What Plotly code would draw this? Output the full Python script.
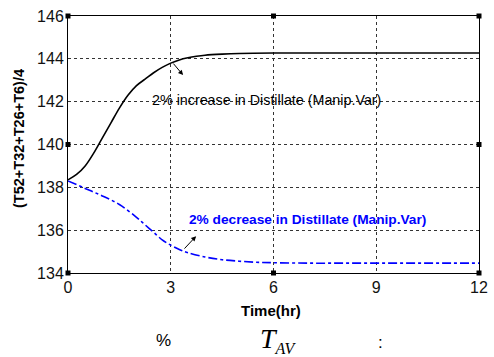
import plotly.graph_objects as go

# Response of the average tray temperature to a +/-2% step in distillate flow
t_up = [0, 0.25, 0.5, 0.75, 1, 1.25, 1.5, 1.75, 2, 2.25, 2.5, 2.75, 3, 3.25, 3.5,
        3.75, 4, 4.5, 5, 6, 7, 8, 9, 10, 11, 12]
temp_up = [138.35, 138.6, 139.0, 139.6, 140.3, 141.0, 141.7, 142.3, 142.75, 143.05,
           143.35, 143.6, 143.8, 143.95, 144.05, 144.12, 144.17, 144.22, 144.25,
           144.27, 144.27, 144.27, 144.27, 144.27, 144.27, 144.27]

t_down = [0, 0.5, 1, 1.5, 2, 2.25, 2.5, 2.75, 3, 3.25, 3.5, 4, 4.5, 5, 5.5, 6,
          7, 8, 9, 10, 11, 12]
temp_down = [138.3, 137.95, 137.6, 137.2, 136.6, 136.25, 135.9, 135.55, 135.3,
             135.1, 134.95, 134.75, 134.62, 134.55, 134.5, 134.48, 134.46, 134.46,
             134.46, 134.46, 134.46, 134.46]

x_ticks = [0, 3, 6, 9, 12]
y_ticks = [134, 136, 138, 140, 142, 144, 146]

# axes selection handles (corners and edge midpoints)
handle_x = [0, 6, 12, 12, 12, 6, 0, 0]
handle_y = [146, 146, 146, 140, 134, 134, 134, 140]

label_up = "2% increase in Distillate (Manip.Var)"
label_down = "2% decrease in Distillate (Manip.Var)"

SANS = "Liberation Sans, Arial"
SERIF = "Liberation Serif, Times New Roman"

W, H = 494, 357
L, R, T, B = 68, 15, 16, 84
PW, PH = W - L - R, H - T - B


def px(xp):
    return (xp - L) / PW


def py(yp):
    return (H - B - yp) / PH


fig = go.Figure()
fig.add_trace(go.Scatter(x=t_up, y=temp_up, mode="lines",
                         line=dict(color="black", width=1.6, shape="spline")))
fig.add_trace(go.Scatter(x=t_down, y=temp_down, mode="lines",
                         line=dict(color="#0000ff", width=1.6, dash="dashdot",
                                   shape="spline")))
fig.add_trace(go.Scatter(x=handle_x, y=handle_y, mode="markers",
                         marker=dict(symbol="square", size=5, color="black"),
                         cliponaxis=False))

axis_style = dict(showgrid=True, gridcolor="#333333", griddash="3px,3px",
                  gridwidth=1, showline=True, linecolor="black", linewidth=1,
                  mirror=True, ticks="", zeroline=False, automargin=False,
                  tickfont=dict(family=SANS, size=16, color="#111111"))

fig.update_xaxes(range=[0, 12], tickvals=x_ticks, ticklabelstandoff=0, **axis_style)
fig.update_yaxes(range=[134, 146], tickvals=y_ticks, ticklabelstandoff=0, **axis_style)


def paper_text(xp, yp, text, size, family=SANS, angle=0):
    return dict(x=px(xp), y=py(yp), xref="paper", yref="paper", showarrow=False,
                xanchor="center", yanchor="middle", textangle=angle, text=text,
                font=dict(family=family, size=size, color="black"))


ann = [
    dict(x=3.36, y=143.24, ax=3.04, ay=143.85, xref="x", yref="y", axref="x",
         ayref="y", showarrow=True, arrowhead=2, arrowsize=1, arrowwidth=1,
         arrowcolor="black", text=""),
    dict(x=3.74, y=135.72, ax=3.36, ay=135.07, xref="x", yref="y", axref="x",
         ayref="y", showarrow=True, arrowhead=2, arrowsize=1, arrowwidth=1,
         arrowcolor="black", text=""),
    dict(x=5.81, y=142.07, xref="x", yref="y", showarrow=False, text=label_up,
         font=dict(family=SANS, size=14.3, color="black")),
    dict(x=7.0, y=136.5, xref="x", yref="y", showarrow=False,
         text="<b>" + label_down + "</b>",
         font=dict(family=SANS, size=13.7, color="#0000ff")),
    # axis titles
    paper_text(271, 310, "<b>Time(hr)</b>", 15),
    paper_text(19, 139, "<b>(T52+T32+T26+T6)/4</b>", 14.5, angle=-90),
    # caption line
    paper_text(163, 340, "%", 17),
    paper_text(278, 340,
               '<i>T</i><sub><span style="font-size:16px"><i>AV</i></span></sub>',
               28, family=SERIF),
    paper_text(380, 342, ":", 17),
]

fig.update_layout(width=W, height=H, margin=dict(l=L, r=R, t=T, b=B),
                  plot_bgcolor="white", paper_bgcolor="white", showlegend=False,
                  annotations=ann)

fig.write_html("out.html")
